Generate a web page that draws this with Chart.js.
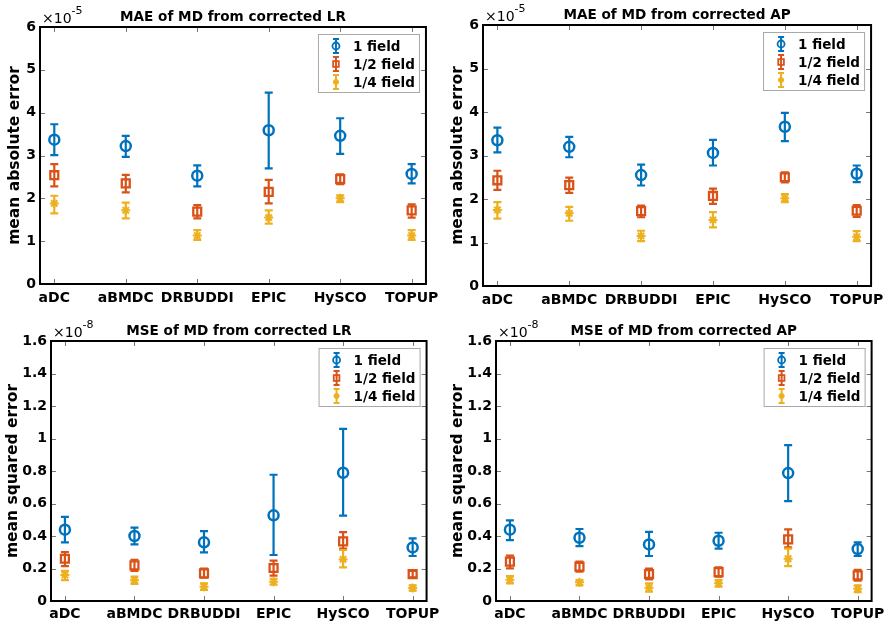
<!DOCTYPE html>
<html><head><meta charset="utf-8">
<script src="https://cdn.jsdelivr.net/npm/chart.js@4.4.0/dist/chart.umd.min.js"></script>
<style>
html,body{margin:0;padding:0;background:#fff;}
#wrap{position:relative;width:890px;height:629px;overflow:hidden;}
.p{position:absolute;}
</style></head><body>
<div id="wrap">
<div class="p" style="left:0;top:0;width:445px;height:310px"><canvas id="c1"></canvas></div>
<div class="p" style="left:445px;top:0;width:445px;height:310px"><canvas id="c2"></canvas></div>
<div class="p" style="left:0;top:310px;width:445px;height:319px"><canvas id="c3"></canvas></div>
<div class="p" style="left:445px;top:310px;width:445px;height:319px"><canvas id="c4"></canvas></div>
</div>
<script>
// ---------- DATA ----------
const categories = ['aDC','aBMDC','DRBUDDI','EPIC','HySCO','TOPUP'];
const seriesNames = ['1 field','1/2 field','1/4 field'];
const maeTicks = [0,1,2,3,4,5,6];      // x 1e-5
const mseTicks = [0,0.2,0.4,0.6,0.8,1,1.2,1.4,1.6]; // x 1e-8

// MAE from corrected LR (x 1e-5)
const maeLR_full     = [3.37,3.22,2.53,3.59,3.46,2.57];
const maeLR_full_lo  = [3.01,2.97,2.28,2.70,3.04,2.35];
const maeLR_full_hi  = [3.73,3.46,2.77,4.47,3.87,2.80];
const maeLR_half     = [2.54,2.35,1.69,2.15,2.45,1.72];
const maeLR_half_lo  = [2.28,2.14,1.53,1.88,2.33,1.55];
const maeLR_half_hi  = [2.80,2.55,1.84,2.43,2.56,1.86];
const maeLR_quar     = [1.88,1.72,1.13,1.55,2.00,1.13];
const maeLR_quar_lo  = [1.65,1.53,1.03,1.41,1.91,1.03];
const maeLR_quar_hi  = [2.06,1.90,1.26,1.72,2.07,1.26];

// MAE from corrected AP (x 1e-5)
const maeAP_full     = [3.35,3.20,2.55,3.06,3.66,2.58];
const maeAP_full_lo  = [3.07,2.96,2.31,2.77,3.33,2.39];
const maeAP_full_hi  = [3.64,3.43,2.79,3.36,3.98,2.77];
const maeAP_half     = [2.43,2.32,1.72,2.07,2.50,1.73];
const maeAP_half_lo  = [2.21,2.14,1.58,1.89,2.38,1.59];
const maeAP_half_hi  = [2.65,2.49,1.85,2.24,2.61,1.86];
const maeAP_quar     = [1.75,1.67,1.15,1.52,2.02,1.13];
const maeAP_quar_lo  = [1.55,1.50,1.03,1.35,1.93,1.03];
const maeAP_quar_hi  = [1.93,1.82,1.27,1.70,2.11,1.26];

// MSE from corrected LR (x 1e-8)
const mseLR_full     = [0.439,0.400,0.361,0.527,0.789,0.330];
const mseLR_full_lo  = [0.361,0.348,0.299,0.283,0.525,0.277];
const mseLR_full_hi  = [0.518,0.451,0.430,0.777,1.059,0.385];
const mseLR_half     = [0.260,0.219,0.170,0.203,0.367,0.166];
const mseLR_half_lo  = [0.215,0.186,0.143,0.156,0.322,0.145];
const mseLR_half_hi  = [0.301,0.254,0.199,0.248,0.424,0.186];
const mseLR_quar     = [0.160,0.127,0.088,0.119,0.256,0.080];
const mseLR_quar_lo  = [0.129,0.105,0.068,0.100,0.207,0.064];
const mseLR_quar_hi  = [0.186,0.150,0.109,0.137,0.314,0.096];

// MSE from corrected AP (x 1e-8)
const mseAP_full     = [0.439,0.389,0.348,0.371,0.787,0.320];
const mseAP_full_lo  = [0.375,0.338,0.277,0.322,0.615,0.277];
const mseAP_full_hi  = [0.496,0.443,0.426,0.420,0.959,0.361];
const mseAP_half     = [0.242,0.211,0.166,0.178,0.379,0.158];
const mseAP_half_lo  = [0.201,0.180,0.133,0.150,0.330,0.125];
const mseAP_half_hi  = [0.279,0.242,0.199,0.207,0.441,0.191];
const mseAP_quar     = [0.131,0.115,0.082,0.109,0.260,0.076];
const mseAP_quar_lo  = [0.109,0.096,0.057,0.088,0.215,0.055];
const mseAP_quar_hi  = [0.154,0.129,0.109,0.129,0.322,0.096];

// ---------- STYLE ----------
const COLORS = ['#0072BD','#D95319','#EDB120'];
const STYLES = [
  {pointStyle:'circle', radius:5, bw:2.5},
  {pointStyle:'rect',   radius:5.6, bw:2.3},
  {pointStyle:'star',   radius:4.5, bw:2}
];
const FONT = '"DejaVu Sans", sans-serif';

function makePanel(id, o){
  const series = [
    {v:o.s[0][0], lo:o.s[0][1], hi:o.s[0][2]},
    {v:o.s[1][0], lo:o.s[1][1], hi:o.s[1][2]},
    {v:o.s[2][0], lo:o.s[2][1], hi:o.s[2][2]}
  ];
  const datasets = series.map((s,k)=>({
    label: seriesNames[k],
    data: s.v.map((v,i)=>({x:i+1,y:v})),
    pointStyle: STYLES[k].pointStyle,
    pointRadius: STYLES[k].radius,
    pointHoverRadius: STYLES[k].radius,
    pointBorderWidth: STYLES[k].bw,
    borderColor: COLORS[k],
    backgroundColor: 'rgba(0,0,0,0)',
    showLine:false
  }));

  const errPlugin = {
    id:'errbars',
    beforeDatasetsDraw(chart){
      const {ctx, scales:{x,y}} = chart;
      series.forEach((s,k)=>{
        ctx.save();
        ctx.strokeStyle = COLORS[k]; ctx.lineWidth = 2.2;
        s.v.forEach((v,i)=>{
          const px = x.getPixelForValue(i+1);
          const pl = y.getPixelForValue(s.lo[i]), ph = y.getPixelForValue(s.hi[i]);
          ctx.beginPath();
          ctx.moveTo(px,pl); ctx.lineTo(px,ph);
          ctx.moveTo(px-4,pl); ctx.lineTo(px+4,pl);
          ctx.moveTo(px-4,ph); ctx.lineTo(px+4,ph);
          ctx.stroke();
        });
        ctx.restore();
      });
    },
    afterDraw(chart){
      const {ctx, chartArea:{left,right,top,bottom}, scales:{x,y}} = chart;
      ctx.save();
      // inward ticks
      ctx.strokeStyle = '#777'; ctx.lineWidth = 1;
      ctx.beginPath();
      o.ticks.forEach(t=>{
        const py = Math.round(y.getPixelForValue(t))+0.5;
        ctx.moveTo(left,py); ctx.lineTo(left+5,py);
        ctx.moveTo(right,py); ctx.lineTo(right-5,py);
      });
      categories.forEach((c,i)=>{
        const px = Math.round(x.getPixelForValue(i+1))+0.5;
        ctx.moveTo(px,bottom); ctx.lineTo(px,bottom-5);
        ctx.moveTo(px,top); ctx.lineTo(px,top+5);
      });
      ctx.stroke();
      // frame
      ctx.strokeStyle = '#000'; ctx.lineWidth = 2;
      ctx.strokeRect(left,top,right-left,bottom-top);
      // title
      ctx.fillStyle = '#000';
      ctx.font = 'bold 13.6px ' + FONT;
      ctx.textAlign = 'center'; ctx.textBaseline = 'middle';
      ctx.fillText(o.title, (left+right)/2, top - 10);
      // exponent
      ctx.textAlign = 'left'; ctx.textBaseline = 'alphabetic';
      ctx.font = '14px ' + FONT;
      ctx.fillText('\u00d710', left+2, top-4);
      const w = ctx.measureText('\u00d710').width;
      ctx.font = '11px ' + FONT;
      ctx.fillText(o.exp, left+2+w, top-13);
      // legend
      const bw = 101, bh = 58;
      const bx = right - 7 - bw, by = top + 7;
      ctx.fillStyle = '#fff'; ctx.fillRect(bx,by,bw,bh);
      ctx.strokeStyle = '#a8a8a8'; ctx.lineWidth = 1;
      ctx.strokeRect(bx+0.5,by+0.5,bw,bh);
      seriesNames.forEach((name,k)=>{
        const cy = by + 12 + k*18, cx = bx + 18;
        ctx.strokeStyle = COLORS[k]; ctx.lineWidth = 2;
        ctx.beginPath();
        ctx.moveTo(cx,cy-7); ctx.lineTo(cx,cy+7);
        ctx.moveTo(cx-3,cy-7); ctx.lineTo(cx+3,cy-7);
        ctx.moveTo(cx-3,cy+7); ctx.lineTo(cx+3,cy+7);
        ctx.stroke();
        ctx.strokeStyle = COLORS[k];
        ctx.fillStyle = 'rgba(0,0,0,0)';
        ctx.lineWidth = 1.8;
        Chart.helpers.drawPoint(ctx, {pointStyle:STYLES[k].pointStyle, rotation:0, borderWidth:1.8,
          radius: k===0?3.5:(k===1?4:3)}, cx, cy);
        ctx.fillStyle = '#000';
        ctx.font = 'bold 13.5px ' + FONT;
        ctx.textAlign = 'left'; ctx.textBaseline = 'middle';
        ctx.fillText(name, bx + 35, cy + 1);
      });
      ctx.restore();
    }
  };

  return new Chart(document.getElementById(id), {
    type:'scatter',
    data:{datasets},
    options:{
      responsive:true, maintainAspectRatio:false, animation:false,
      layout:{padding:{left:0, right:o.padR, top:o.padT, bottom:0}},
      plugins:{legend:{display:false}, tooltip:{enabled:false}, title:{display:false}},
      scales:{
        x:{
          type:'linear', min:0.8, max:6.2,
          grid:{display:false, drawTicks:false}, border:{display:false},
          afterBuildTicks(ax){ ax.ticks = categories.map((c,i)=>({value:i+1})); },
          afterFit(ax){ ax.height = o.xH; },
          ticks:{
            autoSkip:false, maxRotation:0, padding:o.xPad, color:'#000',
            font:{family:FONT, size:14, weight:'bold'},
            callback:(v)=>categories[Math.round(v)-1] || ''
          }
        },
        y:{
          type:'linear', min:0, max:o.ticks[o.ticks.length-1],
          grid:{display:false, drawTicks:false}, border:{display:false},
          afterBuildTicks(ax){ ax.ticks = o.ticks.map(t=>({value:t})); },
          afterFit(ax){ ax.width = o.yW; },
          ticks:{
            padding:4, color:'#000',
            font:{family:FONT, size:14, weight:'bold'},
            callback:(v)=>String(+Number(v).toFixed(1))
          },
          title:{display:true, text:o.ytitle, color:'#000',
            font:{family:FONT, size:15.5, weight:'bold'},
            padding:{top:o.ytPad, bottom:0}}
        }
      }
    },
    plugins:[errPlugin]
  });
}

makePanel('c1', {
  title:'MAE of MD from corrected LR', ytitle:'mean absolute error', exp:'-5', ticks:maeTicks,
  yW:40, padT:27, padR:18, xH:26, xPad:6, ytPad:6,
  s:[[maeLR_full,maeLR_full_lo,maeLR_full_hi],[maeLR_half,maeLR_half_lo,maeLR_half_hi],[maeLR_quar,maeLR_quar_lo,maeLR_quar_hi]]
});
makePanel('c2', {
  title:'MAE of MD from corrected AP', ytitle:'mean absolute error', exp:'-5', ticks:maeTicks,
  yW:38, padT:25, padR:17, xH:24, xPad:6, ytPad:4,
  s:[[maeAP_full,maeAP_full_lo,maeAP_full_hi],[maeAP_half,maeAP_half_lo,maeAP_half_hi],[maeAP_quar,maeAP_quar_lo,maeAP_quar_hi]]
});
makePanel('c3', {
  title:'MSE of MD from corrected LR', ytitle:'mean squared error', exp:'-8', ticks:mseTicks,
  yW:51, padT:31, padR:18, xH:28, xPad:5, ytPad:4,
  s:[[mseLR_full,mseLR_full_lo,mseLR_full_hi],[mseLR_half,mseLR_half_lo,mseLR_half_hi],[mseLR_quar,mseLR_quar_lo,mseLR_quar_hi]]
});
makePanel('c4', {
  title:'MSE of MD from corrected AP', ytitle:'mean squared error', exp:'-8', ticks:mseTicks,
  yW:51, padT:31, padR:17, xH:28, xPad:5, ytPad:4,
  s:[[mseAP_full,mseAP_full_lo,mseAP_full_hi],[mseAP_half,mseAP_half_lo,mseAP_half_hi],[mseAP_quar,mseAP_quar_lo,mseAP_quar_hi]]
});
</script>
</body></html>
